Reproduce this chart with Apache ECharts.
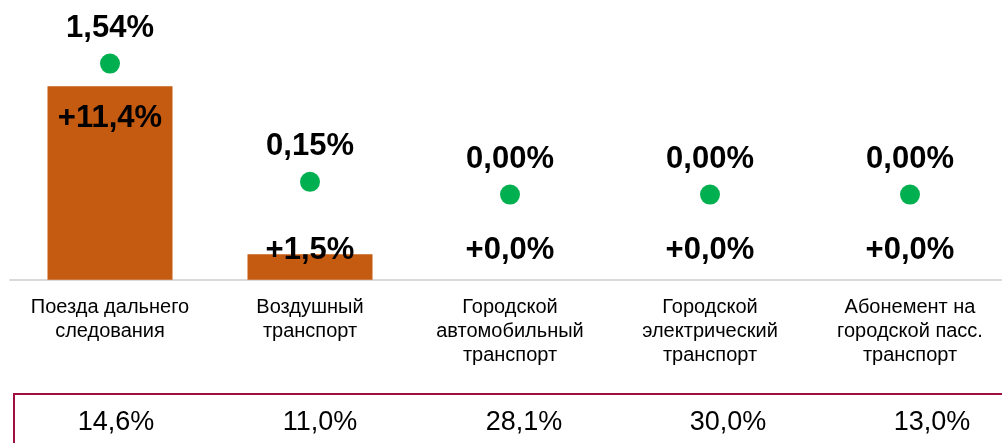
<!DOCTYPE html>
<html>
<head>
<meta charset="utf-8">
<script src="https://cdn.jsdelivr.net/npm/echarts@6/dist/echarts.min.js"></script>
<style>
  html, body { margin: 0; padding: 0; background: #fff; }
  #chart { width: 1002px; height: 443px; }
</style>
</head>
<body>
<div id="chart"></div>
<script>
// категории и значения
const categories = [
  'Поезда дальнего\nследования',
  'Воздушный\nтранспорт',
  'Городской\nавтомобильный\nтранспорт',
  'Городской\nэлектрический\nтранспорт',
  'Абонемент на\nгородской пасс.\nтранспорт'
];
const barValues = [11.4, 1.5, 0.0, 0.0, 0.0];      // столбцы, %
const dotValues = [1.54, 0.15, 0.00, 0.00, 0.00];  // зелёные точки, %
const shareLabels = ['14,6%', '11,0%', '28,1%', '30,0%', '13,0%']; // нижняя строка

const FONT = "'Liberation Sans', Arial, sans-serif";

function fmt(v, digits) {
  return v.toFixed(digits).replace('.', ',') + '%';
}

let chart = echarts.init(document.getElementById('chart'));

let option = {
  backgroundColor: '#fff',
  animation: false,
  grid: [
    { left: 10, top: 10, width: 1000, bottom: 163.3, outerBoundsMode: 'none' },
    { left: 14, top: 394, width: 1020, height: 100, show: true, outerBoundsMode: 'none',
      borderColor: '#A0103F', borderWidth: 2, backgroundColor: 'transparent' }
  ],
  xAxis: [
    {
      type: 'category',
      gridIndex: 0,
      data: categories,
      axisLine: { show: true, lineStyle: { color: '#D9D9D9', width: 2 } },
      axisTick: { show: false },
      axisLabel: {
        interval: 0,
        margin: 16,
        color: '#000',
        fontFamily: FONT,
        fontSize: 20,
        lineHeight: 24
      }
    },
    {
      type: 'category',
      gridIndex: 1,
      position: 'top',
      data: shareLabels,
      axisLine: { show: false },
      axisTick: { show: false },
      axisLabel: {
        inside: true,
        interval: 0,
        margin: 15,
        color: '#000',
        fontFamily: FONT,
        fontSize: 27
      }
    }
  ],
  yAxis: [
    { type: 'value', gridIndex: 0, min: 0, max: 15.9, show: false },
    { type: 'value', gridIndex: 0, min: -1, max: 2.17, show: false },
    { type: 'value', gridIndex: 1, show: false }
  ],
  series: [
    {
      name: 'Прирост',
      type: 'bar',
      xAxisIndex: 0,
      yAxisIndex: 0,
      barWidth: 125,
      itemStyle: { color: '#C55A11' },
      data: barValues,
      label: {
        show: true,
        position: 'insideTop',
        color: '#000',
        fontFamily: FONT,
        fontSize: 31,
        fontWeight: 'bold',
        formatter: p => '+' + fmt(p.value, 1)
      },
      z: 2
    },
    {
      name: 'Вклад',
      type: 'scatter',
      xAxisIndex: 0,
      yAxisIndex: 1,
      symbol: 'circle',
      symbolSize: 20,
      itemStyle: { color: '#00B050', opacity: 1 },
      data: dotValues,
      label: {
        show: true,
        position: 'top',
        distance: 10,
        color: '#000',
        fontFamily: FONT,
        fontSize: 31,
        fontWeight: 'bold',
        formatter: p => fmt(p.value, 2)
      },
      z: 3
    }
  ]
};

chart.setOption(option);

// подписи столбцов: внутри у вершины, но не ниже общей линии у маленьких столбцов
const labelFloor = chart.convertToPixel({ yAxisIndex: 0 }, 0) - 29;
const barData = barValues.map(v => {
  const top = chart.convertToPixel({ yAxisIndex: 0 }, v);
  const dy = Math.min(top + 32, labelFloor) - top;
  return {
    value: v,
    label: { position: ['50%', dy], align: 'center', verticalAlign: 'middle' }
  };
});
chart.setOption({ series: [{ name: 'Прирост', data: barData }] });
</script>
</body>
</html>
